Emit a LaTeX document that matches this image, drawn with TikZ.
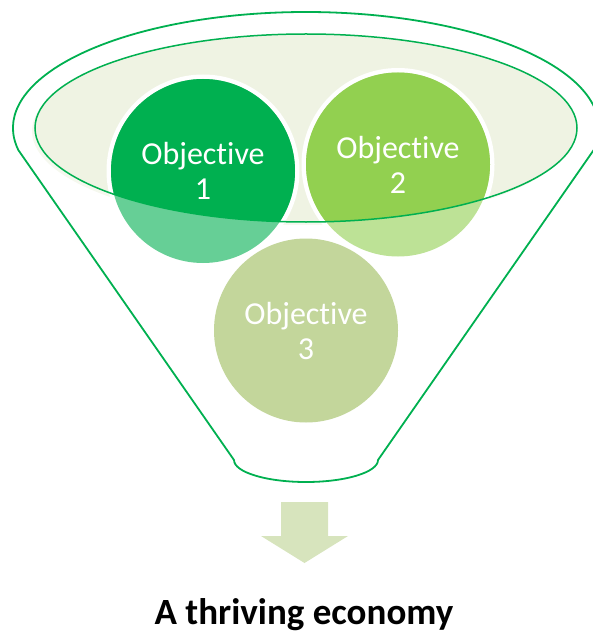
\documentclass[tikz,border=0pt]{standalone}
\usepackage{fontspec}
\setmainfont[Ligatures=NoCommon]{Carlito}
\usepackage{tikz}

\definecolor{objA}{RGB}{0,176,80}
\definecolor{objB}{RGB}{146,208,80}
\definecolor{objC}{RGB}{155,187,89}
\definecolor{rimgreen}{RGB}{0,176,80}
\definecolor{bowl}{RGB}{239,243,227}
\definecolor{arrowfill}{RGB}{215,228,189}

\begin{document}
\begin{tikzpicture}[x=1pt,y=-1pt,
		rim/.style={draw=rimgreen,line width=1.8pt,line join=round},
		objtext/.style={text=white,align=center,font=\fontsize{32}{35}\selectfont},
		goaltext/.style={font=\bfseries\fontsize{37}{40}\selectfont,anchor=base}]
		\useasboundingbox (0,0) rectangle (592,631);
		\coordinate (mid) at (306,128);
		\coordinate (c1) at (203,171);
		\coordinate (c2) at (398,164.5);
		\coordinate (c3) at (306,330.5);
		\draw[rim] (mid) ++(169:293 and 116) arc[start angle=169,end angle=371,x radius=293,y radius=116]
			-- (378,460) arc[start angle=0,end angle=180,x radius=72,y radius=22] -- cycle;
		\fill[bowl,opacity=.6] (303,131) ellipse[x radius=271,y radius=94];
		\fill[bowl] (mid) ellipse[x radius=271,y radius=94];
		\foreach \c in {c1,c2,c3}
			\fill[white] (\c) circle[radius=96.5];
		\fill[objA,opacity=.6] (c1) circle[radius=92];
		\fill[objB,opacity=.6] (c2) circle[radius=92];
		\fill[objC,opacity=.6] (c3) circle[radius=92];
		\begin{scope}
			\clip (mid) ellipse[x radius=271,y radius=94];
			\fill[objA] (c1) circle[radius=92];
			\fill[objB] (c2) circle[radius=92];
		\end{scope}
		\draw[rimgreen,line width=1.5pt] (mid) ellipse[x radius=271,y radius=94];
		\node[objtext] (obj1) at (c1) {Objective\\1};
		\node[objtext] (obj2) at (c2) {Objective\\2};
		\node[objtext] (obj3) at (c3) {Objective\\3};
		\fill[arrowfill] (281,502) -- (328,502) -- (328,536) -- (348,536) -- (304.5,563)
			-- (261,536) -- (281,536) -- cycle;
		\node[goaltext] (goal) at (304,624) {A thriving economy};
	\end{tikzpicture}
\end{document}
